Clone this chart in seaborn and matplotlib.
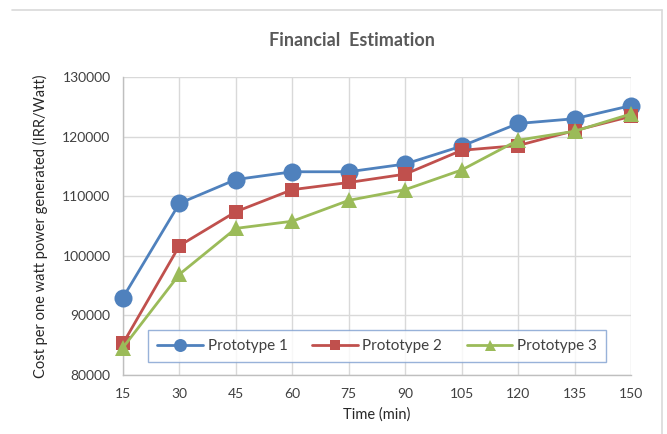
import matplotlib
matplotlib.use("Agg")
import matplotlib.pyplot as plt
import seaborn as sns
import pandas as pd
from matplotlib.lines import Line2D

time_min = [15, 30, 45, 60, 75, 90, 105, 120, 135, 150]
prototype_1 = [93000, 108800, 112800, 114100, 114100, 115400, 118400, 122200, 123000, 125200]
prototype_2 = [85300, 101700, 107400, 111100, 112300, 113700, 117700, 118500, 121000, 123400]
prototype_3 = [84600, 96900, 104600, 105800, 109300, 111100, 114400, 119400, 120900, 123800]
series_names = ["Prototype 1", "Prototype 2", "Prototype 3"]
y_ticks = [80000, 90000, 100000, 110000, 120000, 130000]

sns.set_theme(style="white")
plt.rcParams['font.family'] = ['Lato', 'DejaVu Sans']

frames = []
for name, vals in zip(series_names, [prototype_1, prototype_2, prototype_3]):
    frames.append(pd.DataFrame({"Time": time_min, "Cost": vals, "Series": name}))
df = pd.concat(frames, ignore_index=True)

fig = plt.figure(figsize=(6.67, 4.34), dpi=100)
ax = fig.add_axes([123/667, 59/434, 508/667, 298/434])

colors = {"Prototype 1": "#4F81BD", "Prototype 2": "#C0504D", "Prototype 3": "#9BBB59"}
markers = {"Prototype 1": "o", "Prototype 2": "s", "Prototype 3": "^"}
msizes = {"Prototype 1": 13, "Prototype 2": 10.5, "Prototype 3": 11}

for name in series_names:
    sub = df[df["Series"] == name]
    sns.lineplot(data=sub, x="Time", y="Cost", ax=ax, color=colors[name],
                 marker=markers[name], markersize=msizes[name], markeredgewidth=0,
                 linewidth=2.0, label=name, clip_on=False, zorder=3)

ax.set_xlim(15, 150)
ax.set_ylim(80000, 130000)
ax.set_xticks(time_min)
ax.set_yticks(y_ticks)
ax.grid(True, color="#D9D9D9", linewidth=1.0)
ax.set_axisbelow(True)
for s in ["top", "right"]:
    ax.spines[s].set_visible(False)
for s in ["left", "bottom"]:
    ax.spines[s].set_color("#BFBFBF")
    ax.spines[s].set_linewidth(1.0)
ax.tick_params(axis="both", length=0, labelsize=10, colors="#404040")
ax.tick_params(axis="x", pad=9)
ax.tick_params(axis="y", pad=9)

ax.set_xlabel("Time (min)", fontsize=10.5, color="#262626", labelpad=6)
ax.set_ylabel("Cost per one watt power generated (IRR/Watt)", fontsize=10.5, color="#262626", labelpad=10)
fig.text(352/667, 1 - 41/434, "Financial  Estimation", ha="center", va="center",
         fontsize=13, fontweight="bold", color="#595959")

leg = ax.legend(loc="center", bbox_to_anchor=(0.5, 0.097), ncol=3, frameon=True,
                fancybox=False, fontsize=11, handlelength=3.0, columnspacing=1.6,
                borderpad=0.6, handletextpad=0.3, markerscale=0.72)
leg.get_frame().set_edgecolor("#7F9FD0")
leg.get_frame().set_linewidth(1.0)
for t in leg.get_texts():
    t.set_color("#404040")

# chart outer border (top and right edges visible)
fig.add_artist(Line2D([12/667, 662/667], [1 - 10/434, 1 - 10/434], transform=fig.transFigure,
                      color="#D9D9D9", linewidth=1.2))
fig.add_artist(Line2D([662/667, 662/667], [0, 1 - 10/434], transform=fig.transFigure,
                      color="#D9D9D9", linewidth=1.2))

fig.savefig("out.png", dpi=100)
